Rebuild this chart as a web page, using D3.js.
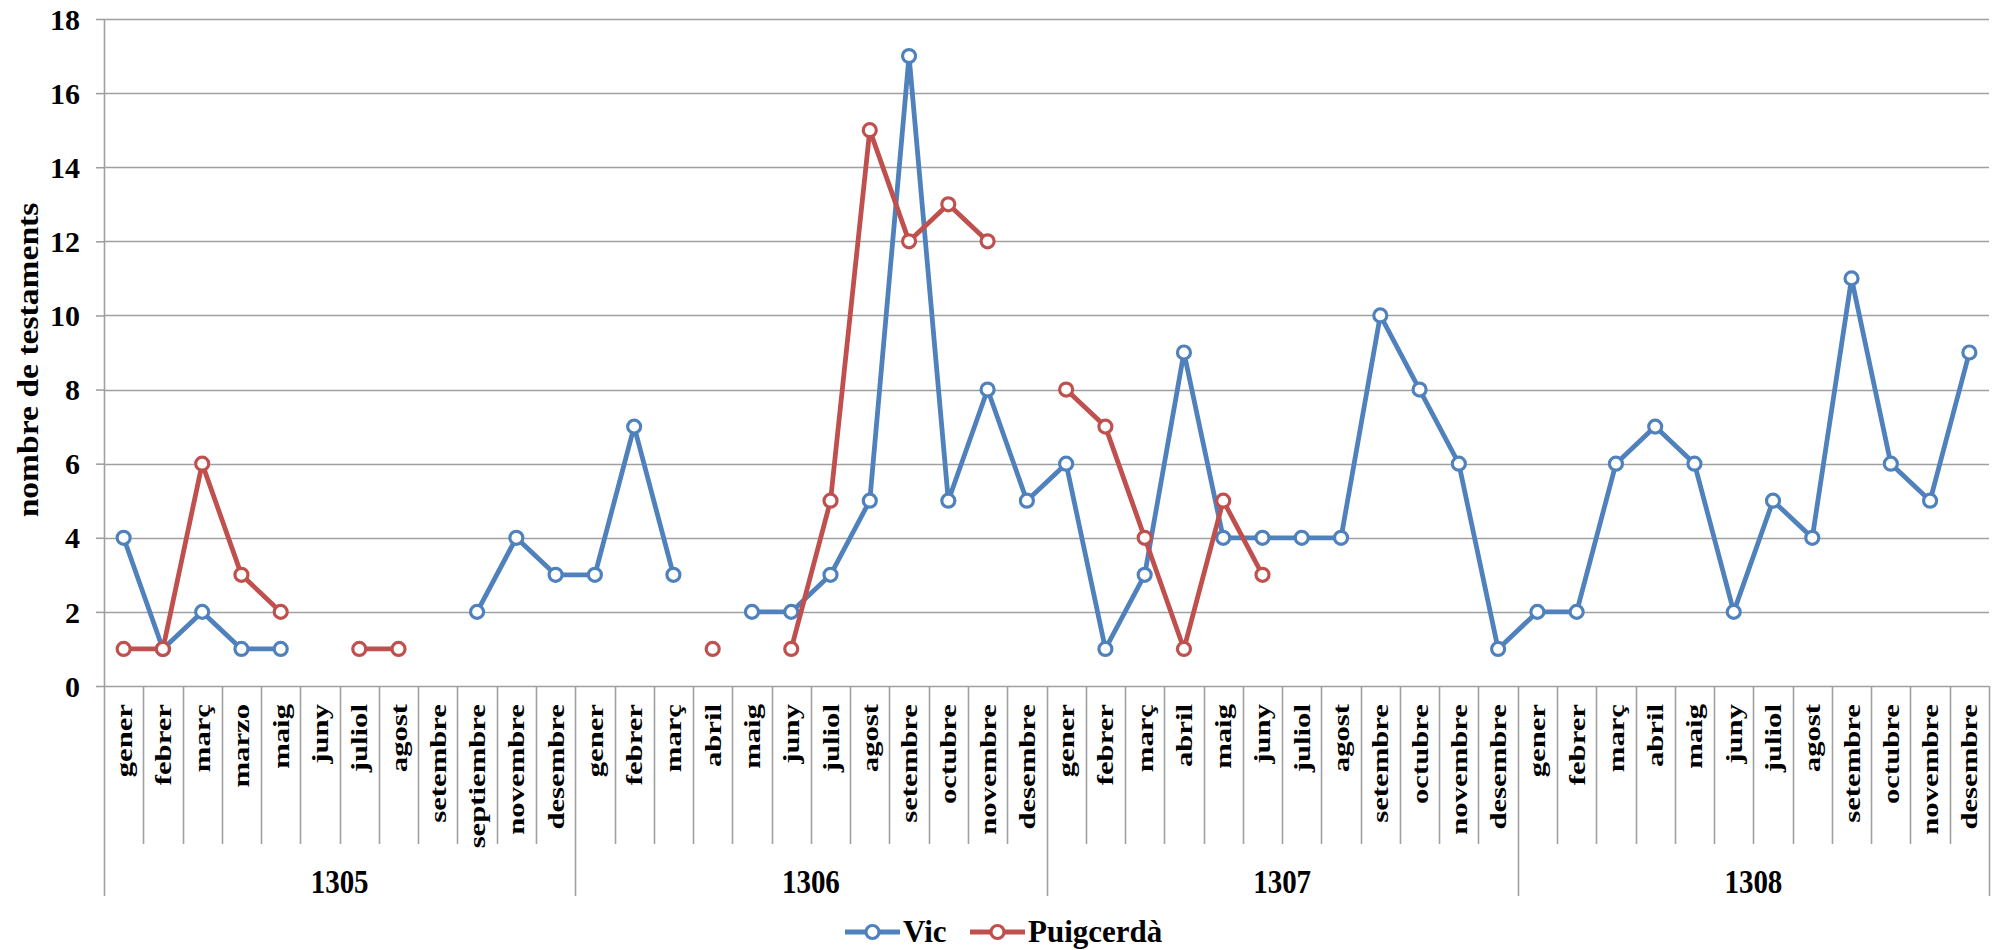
<!DOCTYPE html>
<html>
<head>
<meta charset="utf-8">
<script src="https://cdn.jsdelivr.net/npm/d3@7"></script>
<style>
  html, body { margin: 0; padding: 0; background: #fff; }
  svg { display: block; }
  text { font-family: "Liberation Serif", "Times New Roman", serif; font-weight: bold; fill: #000; }
</style>
</head>
<body>
<svg id="chart" width="1996" height="950"></svg>
<script>
const years = ["1305", "1306", "1307", "1308"];
const months1305 = ["gener","febrer","març","marzo","maig","juny","juliol","agost","setembre","septiembre","novembre","desembre"];
const months1306 = ["gener","febrer","març","abril","maig","juny","juliol","agost","setembre","octubre","novembre","desembre"];
const months1307 = ["gener","febrer","març","abril","maig","juny","juliol","agost","setembre","octubre","novembre","desembre"];
const months1308 = ["gener","febrer","març","abril","maig","juny","juliol","agost","setembre","octubre","novembre","desembre"];
const monthLabels = [months1305, months1306, months1307, months1308];

const vic = [
  4, 1, 2, 1, 1, null, null, null, null, 2, 4, 3,
  3, 7, 3, null, 2, 2, 3, 5, 17, 5, 8, 5,
  6, 1, 3, 9, 4, 4, 4, 4, 10, 8, 6, 1,
  2, 2, 6, 7, 6, 2, 5, 4, 11, 6, 5, 9
];
const puigcerda = [
  1, 1, 6, 3, 2, null, 1, 1, null, null, null, null,
  null, null, null, 1, null, 1, 5, 15, 12, 13, 12, null,
  8, 7, 4, 1, 5, 3, null, null, null, null, null, null,
  null, null, null, null, null, null, null, null, null, null, null, null
];
const yTicks = [0, 2, 4, 6, 8, 10, 12, 14, 16, 18];
const seriesNames = ["Vic", "Puigcerdà"];
const seriesColors = ["#4F81BD", "#C0504D"];
const yTitle = "nombre de testaments";

const categories = [];
monthLabels.forEach((ms, yi) => ms.forEach((m, mi) => categories.push({year: years[yi], month: m, idx: yi * 12 + mi})));

const svg = d3.select("#chart");
const pLeft = 104, pRight = 1989, pTop = 19, pBottom = 686;
const gridColor = "#A0A0A0";

const x = d3.scaleBand().domain(d3.range(categories.length)).range([pLeft, pRight]).padding(0);
const bw = x.bandwidth();
const cx = i => x(i) + bw / 2;
const y = d3.scaleLinear().domain([0, 18]).range([pBottom, pTop]);

// gridlines
svg.append("g").selectAll("line").data(yTicks).join("line")
  .attr("x1", pLeft).attr("x2", pRight)
  .attr("y1", d => Math.round(y(d)) + 0.5).attr("y2", d => Math.round(y(d)) + 0.5)
  .attr("stroke", gridColor).attr("stroke-width", 1.6);

// y axis
const yAxis = svg.append("g").attr("transform", `translate(${pLeft},0)`)
  .call(d3.axisLeft(y).tickValues(yTicks).tickSize(8).tickPadding(16).tickFormat(d3.format("d")));
yAxis.select(".domain").attr("stroke", gridColor).attr("stroke-width", 1.6).attr("d", `M0.5,${pTop}V${pBottom}`);
yAxis.selectAll(".tick line").attr("stroke", gridColor).attr("stroke-width", 1.6);
yAxis.selectAll(".tick text").style("font-size", "30px").attr("dy", "0.34em")
  .style("font-family", '"Liberation Serif", serif').style("font-weight", "bold").attr("fill", "#000");

// category separators
const sepG = svg.append("g");
d3.range(categories.length + 1).forEach(i => {
  const xp = i < categories.length ? x(i) : pRight;
  const long = (i % 12 === 0);
  sepG.append("line")
    .attr("x1", Math.round(xp) + 0.5).attr("x2", Math.round(xp) + 0.5)
    .attr("y1", pBottom).attr("y2", long ? 896 : 844)
    .attr("stroke", gridColor).attr("stroke-width", 1.6);
});

// month labels
svg.append("g").selectAll("text").data(categories).join("text")
  .attr("transform", d => `translate(${cx(d.idx) + 8},${704}) rotate(-90) scale(1.28,1)`)
  .attr("text-anchor", "end")
  .style("font-size", "24px")
  .text(d => d.month);

// year labels
svg.append("g").selectAll("text").data(years).join("text")
  .attr("transform", (d, i) => `translate(${(x(i * 12) + (i * 12 + 12 < categories.length ? x(i * 12 + 12) : pRight)) / 2},${893}) scale(1,1.15)`)
  .attr("text-anchor", "middle")
  .style("font-size", "29px")
  .text(d => d);

// y title
svg.append("text")
  .attr("transform", `translate(38,360) rotate(-90) scale(1.12,1)`)
  .attr("text-anchor", "middle")
  .style("font-size", "30px")
  .text(yTitle);

// series
const allSeries = [vic, puigcerda];
allSeries.forEach((vals, si) => {
  const pts = vals.map((v, i) => ({i, v}));
  const line = d3.line().defined(d => d.v !== null).x(d => cx(d.i)).y(d => y(d.v));
  svg.append("path").datum(pts)
    .attr("d", line)
    .attr("fill", "none").attr("stroke", seriesColors[si]).attr("stroke-width", 4.8)
    .attr("stroke-linejoin", "round");
  svg.append("g").selectAll("circle").data(pts.filter(d => d.v !== null)).join("circle")
    .attr("cx", d => cx(d.i)).attr("cy", d => y(d.v)).attr("r", 6.5)
    .attr("fill", "#fff").attr("stroke", seriesColors[si]).attr("stroke-width", 3.2);
});

// legend
const legendItems = [{lx: 845, tx: 903}, {lx: 970, tx: 1028}];
legendItems.forEach((it, si) => {
  const g = svg.append("g");
  g.append("line").attr("x1", it.lx).attr("x2", it.lx + 55).attr("y1", 932).attr("y2", 932)
    .attr("stroke", seriesColors[si]).attr("stroke-width", 4.8);
  g.append("circle").attr("cx", it.lx + 27.5).attr("cy", 932).attr("r", 6.5)
    .attr("fill", "#fff").attr("stroke", seriesColors[si]).attr("stroke-width", 3.2);
  g.append("text").attr("x", it.tx).attr("y", 942).style("font-size", "31px").text(seriesNames[si]);
});
</script>
</body>
</html>
